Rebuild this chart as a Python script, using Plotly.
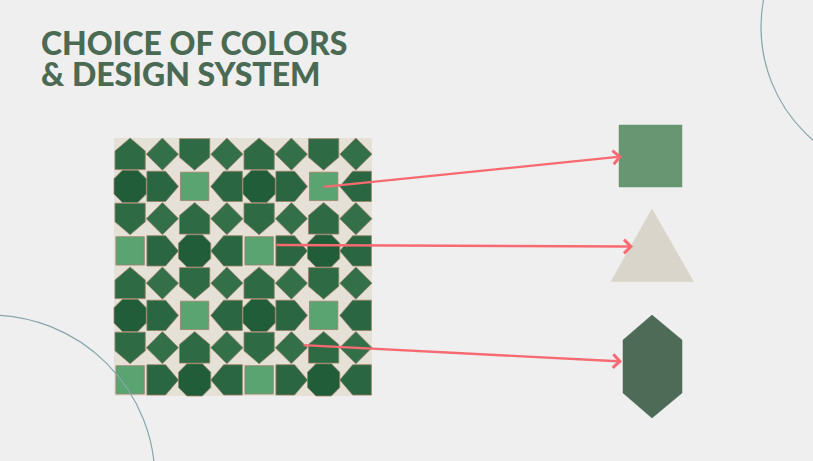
import plotly.graph_objects as go

# slide texts
title_lines = ["CHOICE OF COLORS", "& DESIGN SYSTEM"]

# mosaic layout (8 x 8 cells): L light square, O octagon, D diamond,
# > < ^ v arrow tiles pointing at the light squares
tile_rows = [
    "^DvD^DvD",
    "O>L<O>L<",
    "vD^DvD^D",
    "L>O<L>O<",
    "^DvD^DvD",
    "O>L<O>L<",
    "vD^DvD^D",
    "L>O<L>O<",
]
tile_colors = {"L": "#5aa472", "O": "#225d39", "D": "#33704a",
               ">": "#2a6641", "<": "#2a6641", "^": "#2e6b45", "v": "#2e6b45"}

# colour palette picked from the tiles
palette_names = ["light green", "sand", "dark green"]
palette_colors = ["#689672", "#d9d5ca", "#4d6b57"]

fig = go.Figure()

# ---- mosaic
x0, y0, cell = 114, 138, 32.25
fig.add_shape(type="rect", x0=x0, y0=y0, x1=x0 + 8 * cell, y1=y0 + 8 * cell,
              fillcolor="#e6e1d7", line=dict(width=0), layer="below")

arrow_shape = [(-0.48, -0.47), (0.1, -0.47), (0.5, 0.0), (0.1, 0.47), (-0.48, 0.47)]
rot = {">": (1, 0), "<": (-1, 0), "v": (0, 1), "^": (0, -1)}
octagon = [(-0.24, -0.5), (0.24, -0.5), (0.5, -0.24), (0.5, 0.24),
           (0.24, 0.5), (-0.24, 0.5), (-0.5, 0.24), (-0.5, -0.24)]
diamond = [(0, -0.5), (0.5, 0), (0, 0.5), (-0.5, 0)]
square = [(-0.44, -0.44), (0.44, -0.44), (0.44, 0.44), (-0.44, 0.44)]

polys = {}
for r, row in enumerate(tile_rows):
    for c, t in enumerate(row):
        cx = x0 + (c + 0.5) * cell
        cy = y0 + (r + 0.5) * cell
        if t in rot:
            dx, dy = rot[t]
            pts = [(px * dx - py * dy, px * dy + py * dx) for px, py in arrow_shape]
        elif t == "O":
            pts = octagon
        elif t == "D":
            pts = diamond
        else:
            pts = square
        xs = [cx + px * cell for px, py in pts] + [cx + pts[0][0] * cell, None]
        ys = [cy + py * cell for px, py in pts] + [cy + pts[0][1] * cell, None]
        col = tile_colors[t]
        polys.setdefault(col, ([], []))
        polys[col][0].extend(xs)
        polys[col][1].extend(ys)

for col, (xs, ys) in polys.items():
    fig.add_trace(go.Scatter(x=xs, y=ys, mode="lines", fill="toself", fillcolor=col,
                             line=dict(color="#9a8168", width=0.8), hoverinfo="skip"))

# ---- colour swatches
swatch_x = [[619, 682, 682, 619, 619],
            [652, 693.5, 611, 652],
            [652, 682, 682, 652, 623, 623, 652]]
swatch_y = [[125, 125, 187, 187, 125],
            [209, 281.5, 281.5, 209],
            [315, 340, 393, 418, 393, 340, 315]]
for name, col, xs, ys in zip(palette_names, palette_colors, swatch_x, swatch_y):
    fig.add_trace(go.Scatter(x=xs, y=ys, mode="lines", fill="toself", fillcolor=col,
                             line=dict(color=col, width=0.5), name=name, hoverinfo="name"))

# ---- pointer arrows (tile -> swatch)
arrows = [((322, 187), (622, 156.5)), ((275, 245), (633, 246.5)), ((302, 345), (622, 361.5))]
for (sx, sy), (ex, ey) in arrows:
    fig.add_annotation(x=ex, y=ey, ax=sx, ay=sy, xref="x", yref="y", axref="x", ayref="y",
                       text="", showarrow=True, arrowhead=4, arrowsize=1.1, arrowwidth=2.4,
                       arrowcolor="#f76a72", standoff=0, startstandoff=0)

# ---- decorative circles
fig.add_shape(type="circle", x0=-175, y0=315, x1=155, y1=645,
              line=dict(color="#87a6ad", width=1.2))
fig.add_shape(type="circle", x0=761, y0=-122, x1=1059, y1=176,
              line=dict(color="#87a6ad", width=1.2))

# ---- title
for i, line in enumerate(title_lines):
    fig.add_annotation(x=39, y=42 + 31.5 * i, xref="x", yref="y", text=line,
                       showarrow=False, xanchor="left", yanchor="middle",
                       font=dict(family="Lato", size=32, color="#4b6a53", weight=900))

fig.update_xaxes(range=[0, 813], visible=False)
fig.update_yaxes(range=[461, 0], visible=False)
fig.update_layout(width=813, height=461, margin=dict(l=0, r=0, t=0, b=0),
                  plot_bgcolor="#efefef", paper_bgcolor="#efefef", showlegend=False)

fig.write_html("out.html", config={"displayModeBar": False},
               post_script="document.body.style.margin='0';")
